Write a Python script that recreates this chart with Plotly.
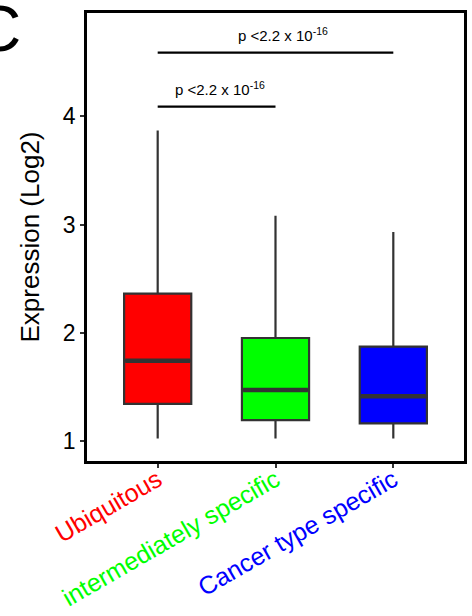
import plotly.graph_objects as go

categories = ["Ubiquitous", "intermediately specific", "Cancer type specific"]
colors = ["#FF0000", "#00FF00", "#0000FF"]
q1 = [1.34, 1.19, 1.16]
median = [1.74, 1.47, 1.41]
q3 = [2.36, 1.95, 1.87]
lower = [1.02, 1.02, 1.02]
upper = [3.87, 3.08, 2.93]
yticks = [1, 2, 3, 4]
pvals = ["p <2.2 x 10<sup>-16</sup>", "p <2.2 x 10<sup>-16</sup>"]
sig_pairs = [(0, 1), (0, 2)]
sig_y = [4.09, 4.59]

box_w = 0.57
FONT = "Liberation Sans, Arial, sans-serif"

fig = go.Figure()
for i, c in enumerate(categories):
    fig.add_trace(go.Box(
        x=[i], q1=[q1[i]], median=[median[i]], q3=[q3[i]],
        lowerfence=[lower[i]], upperfence=[upper[i]],
        width=box_w, whiskerwidth=0, fillcolor=colors[i],
        line=dict(color="#333333", width=2.2), boxpoints=False,
        showlegend=False, hoverinfo="skip"))
    fig.add_trace(go.Scatter(
        x=[i - box_w / 2 + 0.01, i + box_w / 2 - 0.01], y=[median[i], median[i]],
        mode="lines", line=dict(color="#333333", width=4.5),
        showlegend=False, hoverinfo="skip"))

for (a, b), yv, txt in zip(sig_pairs, sig_y, pvals):
    fig.add_trace(go.Scatter(
        x=[a, b], y=[yv, yv], mode="lines",
        line=dict(color="black", width=2.2),
        showlegend=False, hoverinfo="skip"))
    fig.add_annotation(x=(a + b) / 2 + 0.03 * (b - a), y=yv, yshift=7,
                       text=txt, showarrow=False, yanchor="bottom",
                       font=dict(family=FONT, size=15, color="black"))

fig.add_annotation(xref="paper", yref="paper", x=-0.302, y=1.048,
                   text="C", showarrow=False, xanchor="left", yanchor="top",
                   font=dict(family=FONT, size=64, color="black"))

ticktext = ['<span style="color:%s">%s</span>' % (col, c)
            for col, c in zip(colors, categories)]

fig.update_layout(
    width=472, height=616,
    margin=dict(l=87, r=8, t=13, b=155),
    paper_bgcolor="white", plot_bgcolor="white",
    font=dict(family=FONT, color="black"),
    xaxis=dict(range=[-0.6, 2.6], tickvals=[0, 1, 2], ticktext=ticktext,
               tickangle=-30, tickfont=dict(size=25), automargin=False,
               ticklabelstandoff=-12,
               showline=True, linecolor="black", linewidth=2.5, mirror=True,
               ticks="outside", ticklen=4, tickcolor="#333333", tickwidth=1.5,
               showgrid=False, zeroline=False),
    yaxis=dict(range=[0.812, 4.957], tickvals=yticks, automargin=False,
               tickfont=dict(size=23, color="black"),
               title=dict(text="Expression (Log2)", font=dict(size=26), standoff=16),
               showline=True, linecolor="black", linewidth=2.5, mirror=True,
               ticks="outside", ticklen=4, tickcolor="#333333", tickwidth=1.5,
               showgrid=False, zeroline=False),
)

fig.write_html("out.html")
